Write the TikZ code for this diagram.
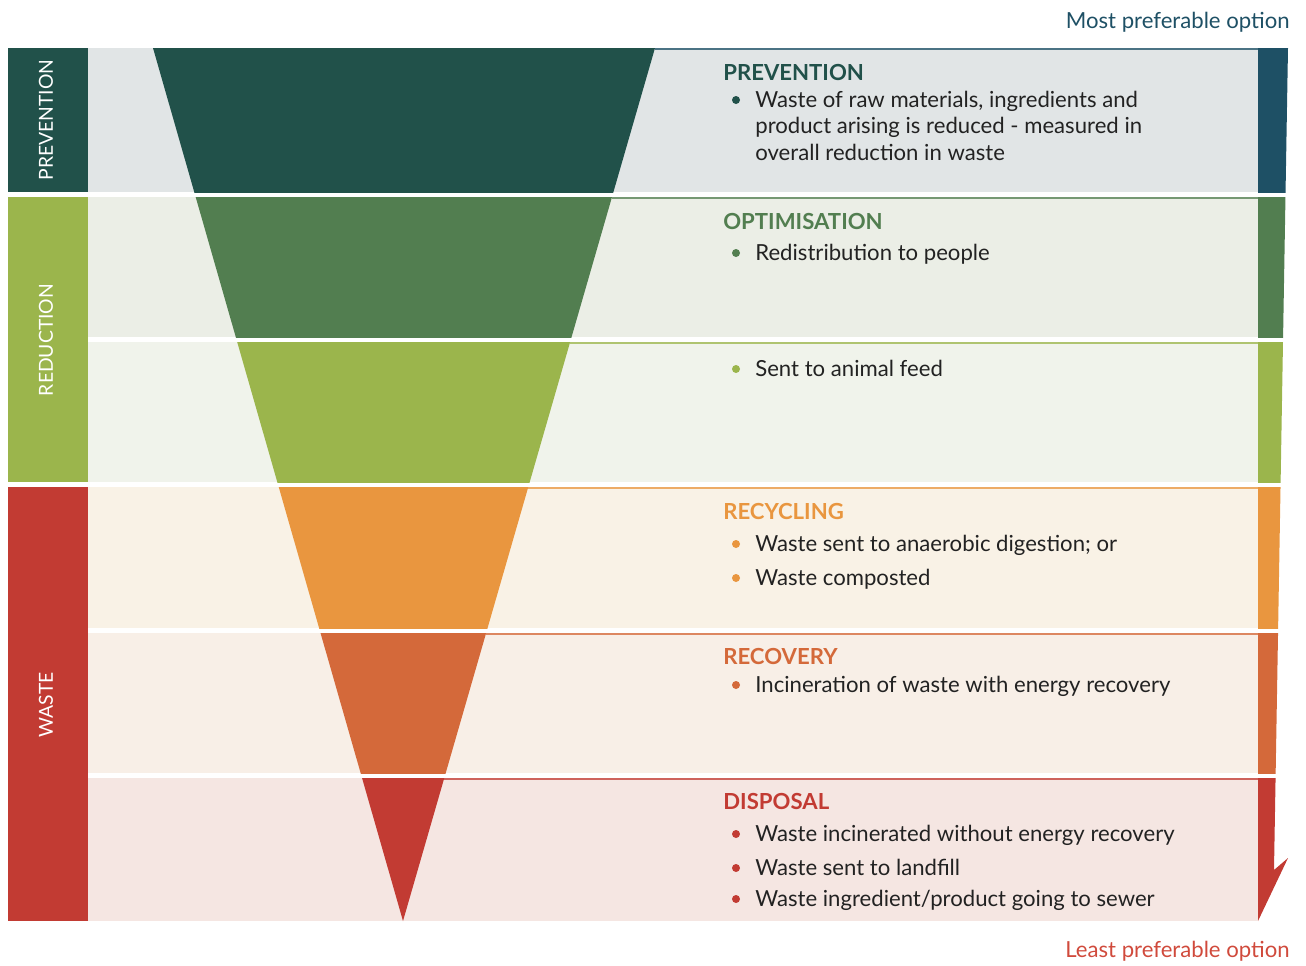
\documentclass[tikz,border=0pt]{standalone}
\usepackage{fontspec}
\setmainfont{Lato}
\usepackage{tikz}
\definecolor{prevdark}{HTML}{21514A}
\definecolor{prevblue}{HTML}{1E5065}
\definecolor{optgreen}{HTML}{527E50}
\definecolor{feedgreen}{HTML}{9BB54C}
\definecolor{recyorange}{HTML}{E9963F}
\definecolor{recoorange}{HTML}{D4693A}
\definecolor{dispred}{HTML}{C23B33}
\definecolor{bgprev}{HTML}{E1E5E6}
\definecolor{bgopt}{HTML}{EBEEE6}
\definecolor{bgfeed}{HTML}{F0F3EB}
\definecolor{bgrecy}{HTML}{F9F2E6}
\definecolor{bgreco}{HTML}{F8EFE7}
\definecolor{bgdisp}{HTML}{F5E6E2}
\definecolor{ink}{HTML}{222222}
\definecolor{leastred}{HTML}{D04A3C}
\newcommand{\bodyfont}{\fontsize{12.6}{15}\selectfont}
\newcommand{\headfont}{\fontsize{12.6}{14}\selectfont\bfseries}
\newcommand{\sidefont}{\fontsize{11}{12}\selectfont}
\tikzset{head/.style = {anchor=base west, inner sep=0pt, font=\headfont, text=#1},
         item/.style = {anchor=base west, inner sep=0pt, font=\bodyfont, text=ink, align=left},
         side/.style = {rotate=90, inner sep=0pt, font=\sidefont, text=white}}

\begin{document}
\begin{tikzpicture}[x=0.02cm, y=-0.02cm]
      \useasboundingbox (0, 0) rectangle (1306, 965);

      % rows: top / bottom / background / funnel / right bar
      \foreach \t/\b/\bg/\c/\r in {48/192/bgprev/prevdark/prevblue,
                                   197/337/bgopt/optgreen/optgreen,
                                   342/482/bgfeed/feedgreen/feedgreen,
                                   487/628/bgrecy/recyorange/recyorange,
                                   633/773/bgreco/recoorange/recoorange,
                                   778/921/bgdisp/dispred/dispred}{
        \pgfmathsetmacro{\fr}{655 - 0.289*(\t - 48)}
        \fill [\bg] (88, \t) rectangle (1258, \b);
        \draw [\r!80!white, line width=1.4pt] (\fr, \t + 1) -- (1258, \t + 1);
        \begin{scope}
          \clip (88, \t) rectangle (1300, \b);
          \fill [\c] (153, 48) -- (655, 48) -- (403, 921) -- cycle;
          \fill [\r] (1258, 48) -- (1288, 48) -- (1274, 870) -- (1288, 858) -- (1258, 921) -- cycle;
        \end{scope}
      }

      % left bars
      \fill [prevdark] (8, 48) rectangle (88, 192);
      \fill [feedgreen] (8, 197) rectangle (88, 482);
      \fill [dispred] (8, 487) rectangle (88, 921);
      \node [side] (sprev) at (46, 120) {PREVENTION};
      \node [side] (sred) at (46, 340) {REDUCTION};
      \node [side] (swaste) at (46, 705) {WASTE};

      % texts
      \node [anchor=base east, inner sep=0pt, font=\bodyfont, text=prevblue] (most) at (1290, 28) {Most preferable option};
      \node [anchor=base east, inner sep=0pt, font=\bodyfont, text=leastred] (least) at (1290, 957) {Least preferable option};

      \node [head=prevdark] (hprev) at (723, 80) {PREVENTION};
      \fill [prevdark] (736, 100) circle [radius=4];
      \node [item] (iprev) at (755, 160) {Waste of raw materials, ingredients and\\product arising is reduced - measured in\\overall reduction in waste};

      \node [head=optgreen] (hopt) at (723, 229) {OPTIMISATION};
      \fill [optgreen] (736, 253) circle [radius=4];
      \node [item] (iopt) at (755, 260) {Redistribution to people};

      \fill [feedgreen] (736, 369) circle [radius=4];
      \node [item] (ifeed) at (755, 376) {Sent to animal feed};

      \node [head=recyorange] (hrecy) at (723, 519) {RECYCLING};
      \fill [recyorange] (736, 544) circle [radius=4];
      \node [item] (irecya) at (755, 551) {Waste sent to anaerobic digestion; or};
      \fill [recyorange] (736, 578) circle [radius=4];
      \node [item] (irecyb) at (755, 585) {Waste composted};

      \node [head=recoorange] (hreco) at (723, 664) {RECOVERY};
      \fill [recoorange] (736, 685) circle [radius=4];
      \node [item] (ireco) at (755, 692) {Incineration of waste with energy recovery};

      \node [head=dispred] (hdisp) at (723, 809) {DISPOSAL};
      \fill [dispred] (736, 834) circle [radius=4];
      \node [item] (idispa) at (755, 841) {Waste incinerated without energy recovery};
      \fill [dispred] (736, 868) circle [radius=4];
      \node [item] (idispb) at (755, 875) {Waste sent to landfill};
      \fill [dispred] (736, 899) circle [radius=4];
      \node [item] (idispc) at (755, 906) {Waste ingredient/product going to sewer};
    \end{tikzpicture}
\end{document}
